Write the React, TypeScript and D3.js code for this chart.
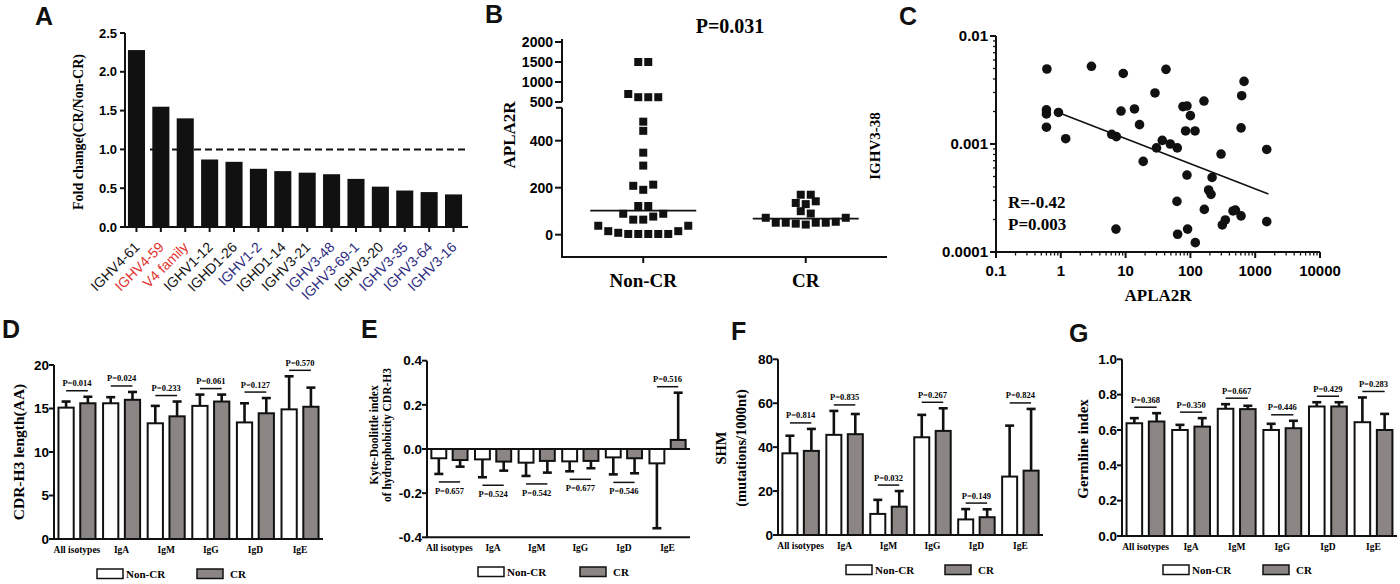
import * as d3 from "d3";

const SANS = "'Liberation Sans', Arial, Helvetica, sans-serif";
const SERIF = "'Liberation Serif', 'Times New Roman', Times, serif";
const INK = "#111";
const GRAY = "#8b8583";
const RED = "#e2302d";
const NAVY = "#2c2a7e";

// ---- A: fold change per gene
const genes = ["IGHV4-61", "IGHV4-59", "V4 family", "IGHV1-12", "IGHD1-26", "IGHV1-2", "IGHD1-14",
  "IGHV3-21", "IGHV3-48", "IGHV3-69-1", "IGHV3-20", "IGHV3-35", "IGHV3-64", "IGHV3-16"];
const foldChange = [2.28, 1.55, 1.4, 0.87, 0.84, 0.75, 0.72, 0.7, 0.68, 0.62, 0.52, 0.47, 0.45, 0.42];
const geneKind = ["k", "r", "r", "k", "k", "b", "k", "k", "b", "b", "k", "b", "b", "b"];
const foldTicks = [0, 0.5, 1, 1.5, 2, 2.5];

// ---- B: APLA2R by response
const groupsB = ["Non-CR", "CR"];
const apla2rNonCR = [1500, 1500, 700, 620, 620, 620, 481, 442, 349, 294, 213, 208, 191, 122, 122,
  89, 89, 77, 64, 64, 38, 15, 3, 3, 3, 3, 3, 8, 15, 38];
const apla2rCR = [170, 170, 130, 135, 142, 90, 100, 43, 47, 51, 51, 51, 51, 55, 72, 72];
const medianB = [102, 68];
const lowTicksB = [0, 200, 400];
const highTicksB = [500, 1000, 1500, 2000];

// ---- C: IGHV3-38 vs APLA2R
const apla2rC = [0.61, 0.6, 0.6, 0.6, 0.92, 1.19, 2.97, 9.2, 8.5, 6.1, 7.2, 7.1, 13.7, 16.4, 18.7,
  28.4, 30, 36.8, 42, 48.9, 62.7, 62, 63.5, 76.7, 88.5, 84.3, 100, 117.9, 88.5, 90.5, 119,
  162, 164, 191, 208, 216, 297, 311, 346, 455, 494, 605, 605, 619, 673, 1507, 1507];
const ighv338 = [0.00495, 0.00207, 0.0019, 0.00143, 0.00196, 0.00112, 0.00524, 0.0045, 0.00202,
  0.00123, 0.00117, 0.000163, 0.00211, 0.00151, 0.00069, 0.00297, 0.00092, 0.00108, 0.00491,
  0.001, 0.00092, 0.000294, 0.000146, 0.00222, 0.00225, 0.00132, 0.00183, 0.00132, 0.000516,
  0.000163, 0.000122, 0.0025, 0.000248, 0.000375, 0.000342, 0.00049, 0.000807, 0.000178,
  0.000198, 0.00024, 0.000244, 0.000216, 0.00141, 0.0028, 0.0038, 0.00089, 0.000191];
const fitC = { slope: -0.233, intercept: -2.717, from: 1, to: 1600 };
const xTicksC = [0.1, 1, 10, 100, 1000, 10000];
const yTicksC = [0.0001, 0.001, 0.01];

// ---- D-G: isotype bars
const isotypes = ["All isotypes", "IgA", "IgM", "IgG", "IgD", "IgE"];

const cdrNonCR = [15.1, 15.6, 13.3, 15.3, 13.4, 14.9];
const cdrNonCRErr = [0.7, 0.7, 2.0, 1.3, 2.2, 3.8];
const cdrCR = [15.6, 16.0, 14.1, 15.8, 14.45, 15.2];
const cdrCRErr = [0.75, 0.9, 1.7, 0.8, 1.75, 2.2];
const cdrP = ["P=0.014", "P=0.024", "P=0.233", "P=0.061", "P=0.127", "P=0.570"];

const kdNonCR = [-0.042, -0.047, -0.062, -0.056, -0.038, -0.065];
const kdNonCRErr = [0.071, 0.081, 0.06, 0.045, 0.077, 0.294];
const kdCR = [-0.05, -0.057, -0.054, -0.054, -0.042, 0.041];
const kdCRErr = [0.03, 0.041, 0.053, 0.033, 0.068, 0.214];
const kdP = ["P=0.657", "P=0.524", "P=0.542", "P=0.677", "P=0.546", "P=0.516"];

const shmNonCR = [37.2, 45.6, 9.6, 44.5, 7.1, 26.6];
const shmNonCRErr = [8.0, 10.9, 6.4, 10.2, 4.7, 23.2];
const shmCR = [38.3, 45.9, 12.9, 47.4, 8.1, 29.3];
const shmCRErr = [10, 9.2, 7.1, 10.3, 3.6, 28.1];
const shmP = ["P=0.814", "P=0.835", "P=0.032", "P=0.267", "P=0.149", "P=0.824"];

const glNonCR = [0.638, 0.6, 0.72, 0.6, 0.733, 0.644];
const glNonCRErr = [0.029, 0.029, 0.026, 0.035, 0.024, 0.14];
const glCR = [0.648, 0.619, 0.718, 0.61, 0.733, 0.6];
const glCRErr = [0.047, 0.048, 0.019, 0.042, 0.024, 0.091];
const glP = ["P=0.368", "P=0.350", "P=0.667", "P=0.446", "P=0.429", "P=0.283"];

const fix1 = (v: number) => v.toFixed(1);

function Letter({ t, x, y }: { t: string; x: number; y: number }) {
  return <text x={x} y={y} fontFamily={SANS} fontWeight="bold" fontSize={25} fill={INK}>{t}</text>;
}

function PanelA() {
  const x = d3.scaleBand().domain(genes).range([125, 465]).paddingInner(0.3).paddingOuter(0.12);
  const y = d3.scaleLinear().domain([0, 2.5]).range([227, 33]);
  const color: Record<string, string> = { k: INK, r: RED, b: NAVY };
  const bw = x.bandwidth();
  return (
    <g>
      <Letter t="A" x={35} y={25} />
      {genes.map((g, i) => (
        <rect key={g} x={x(g)} y={y(foldChange[i])} width={bw} height={y(0) - y(foldChange[i])} fill={INK} />
      ))}
      <line x1={x(genes[0])! + bw + 5} x2={468} y1={y(1)} y2={y(1)} stroke={INK} strokeWidth={2} strokeDasharray="7,4" />
      <line x1={125} x2={125} y1={y(0)} y2={y(2.5)} stroke={INK} strokeWidth={2} />
      <line x1={124} x2={468} y1={y(0)} y2={y(0)} stroke={INK} strokeWidth={2} />
      {foldTicks.map(t => (
        <g key={t}>
          <line x1={120} x2={125} y1={y(t)} y2={y(t)} stroke={INK} strokeWidth={2} />
          <text x={117} y={y(t)} dy="0.35em" textAnchor="end" fontFamily={SANS} fontWeight="bold" fontSize={13}>{fix1(t)}</text>
        </g>
      ))}
      {genes.map((g, i) => {
        const cx = x(g)! + bw / 2;
        return (
          <g key={g}>
            <line x1={cx} x2={cx} y1={y(0)} y2={y(0) + 5} stroke={INK} strokeWidth={2} />
            <text transform={`translate(${cx + 4},${y(0) + 21}) rotate(-45)`} textAnchor="end"
              fontFamily={SANS} fontSize={14} fill={color[geneKind[i]]}>{g}</text>
          </g>
        );
      })}
      <text transform="translate(78,132) rotate(-90)" textAnchor="middle" dominantBaseline="central"
        fontFamily={SERIF} fontWeight="bold" fontSize={14}>Fold change(CR/Non-CR)</text>
    </g>
  );
}

// rows of points that would overlap, spread centre-out
function swarm(vals: number[], py: (v: number) => number, cx: number, gap = 9, step = 10) {
  const sorted = [...vals].sort((a, b) => a - b);
  const rows: number[][] = [];
  let cur: number[] = [];
  for (const v of sorted) {
    if (cur.length && py(cur[0]) - py(v) >= gap) { rows.push(cur); cur = []; }
    cur.push(v);
  }
  if (cur.length) rows.push(cur);
  const pts: { x: number; y: number }[] = [];
  rows.forEach(row => {
    const n = row.length;
    const c = Math.floor(n / 2);
    const order: number[] = [c];
    for (let k = 1; order.length < n; k++) {
      if (c - k >= 0) order.push(c - k);
      if (c + k < n && order.length < n) order.push(c + k);
    }
    row.forEach((v, j) => pts.push({ x: cx + (order[j] - (n - 1) / 2) * step, y: py(v) }));
  });
  return pts;
}

function PanelB() {
  const x = d3.scalePoint().domain(groupsB).range([562, 887]).padding(0.5);
  const yLow = d3.scaleLinear().domain([-95, 540]).range([257, 107.8]);
  const yHigh = d3.scaleLinear().domain([500, 2000]).range([102, 42]);
  const py = (v: number) => (v > 540 ? yHigh(v) : yLow(v));
  const sets = [apla2rNonCR, apla2rCR];
  return (
    <g>
      <Letter t="B" x={485} y={23} />
      {sets.map((vals, gi) =>
        swarm(vals, py, x(groupsB[gi])!).map((p, i) => (
          <rect key={`${gi}-${i}`} x={p.x - 4} y={p.y - 4} width={8} height={8} fill={INK} />
        ))
      )}
      {groupsB.map((g, gi) => (
        <line key={g} x1={x(g)! - 53} x2={x(g)! + 53} y1={py(medianB[gi])} y2={py(medianB[gi])} stroke={INK} strokeWidth={1.8} />
      ))}
      <line x1={562} x2={562} y1={yLow(-95)} y2={yLow(540)} stroke={INK} strokeWidth={2} />
      <line x1={556} x2={562} y1={yLow(540)} y2={yLow(540)} stroke={INK} strokeWidth={2} />
      <line x1={562} x2={562} y1={yHigh(500)} y2={yHigh(2000) - 3} stroke={INK} strokeWidth={2} />
      {lowTicksB.map(t => (
        <g key={t}>
          <line x1={555} x2={562} y1={yLow(t)} y2={yLow(t)} stroke={INK} strokeWidth={2} />
          <text x={553} y={yLow(t)} dy="0.35em" textAnchor="end" fontFamily={SANS} fontWeight="bold" fontSize={14}>{t}</text>
        </g>
      ))}
      {highTicksB.map(t => (
        <g key={t}>
          <line x1={555} x2={562} y1={yHigh(t)} y2={yHigh(t)} stroke={INK} strokeWidth={2} />
          <text x={553} y={yHigh(t)} dy="0.35em" textAnchor="end" fontFamily={SANS} fontWeight="bold" fontSize={14}>{t}</text>
        </g>
      ))}
      <line x1={561} x2={887} y1={257} y2={257} stroke={INK} strokeWidth={2} />
      {groupsB.map(g => (
        <g key={g}>
          <line x1={x(g)} x2={x(g)} y1={257} y2={263} stroke={INK} strokeWidth={2} />
          <text x={x(g)} y={287} textAnchor="middle" fontFamily={SERIF} fontWeight="bold" fontSize={19}>{g}</text>
        </g>
      ))}
      <text x={730} y={33} textAnchor="middle" fontFamily={SERIF} fontWeight="bold" fontSize={20}>P=0.031</text>
      <text transform="translate(509,135) rotate(-90)" textAnchor="middle" dominantBaseline="central"
        fontFamily={SERIF} fontWeight="bold" fontSize={17}>APLA2R</text>
    </g>
  );
}

function PanelC() {
  const x = d3.scaleLog().domain([0.1, 10000]).range([996, 1320]);
  const y = d3.scaleLog().domain([1e-4, 1e-2]).range([252, 36]);
  const major = (v: number) => Math.abs(Math.log10(v) - Math.round(Math.log10(v))) < 1e-6;
  const fitY = (v: number) => Math.pow(10, fitC.intercept + fitC.slope * Math.log10(v));
  const fmtX = (v: number) => (v < 1 ? "0.1" : String(Math.round(v)));
  const fmtY = (v: number) => v.toFixed(-Math.round(Math.log10(v)));
  return (
    <g>
      <Letter t="C" x={899} y={25} />
      {apla2rC.map((v, i) => (
        <circle key={i} cx={x(v)} cy={y(ighv338[i])} r={4.8} fill={INK} />
      ))}
      <line x1={x(fitC.from)} x2={x(fitC.to)} y1={y(fitY(fitC.from))} y2={y(fitY(fitC.to))} stroke={INK} strokeWidth={1.6} />
      <line x1={996} x2={996} y1={252} y2={36} stroke={INK} strokeWidth={2} />
      <line x1={995} x2={1320} y1={252} y2={252} stroke={INK} strokeWidth={2} />
      {y.ticks().map(t => (
        <line key={t} x1={major(t) ? 990 : 993} x2={996} y1={y(t)} y2={y(t)} stroke={INK} strokeWidth={major(t) ? 2 : 1.3} />
      ))}
      {x.ticks().map(t => (
        <line key={t} x1={x(t)} x2={x(t)} y1={252} y2={major(t) ? 258 : 255.5} stroke={INK} strokeWidth={major(t) ? 2 : 1.3} />
      ))}
      {yTicksC.map(t => (
        <text key={t} x={988} y={y(t)} dy="0.35em" textAnchor="end" fontFamily={SANS} fontWeight="bold" fontSize={15}>{fmtY(t)}</text>
      ))}
      {xTicksC.map(t => (
        <text key={t} x={x(t)} y={276} textAnchor="middle" fontFamily={SANS} fontWeight="bold" fontSize={15}>{fmtX(t)}</text>
      ))}
      <text x={1008} y={208} fontFamily={SERIF} fontWeight="bold" fontSize={17}>R=-0.42</text>
      <text x={1008} y={230} fontFamily={SERIF} fontWeight="bold" fontSize={17}>P=0.003</text>
      <text x={1158} y={301} textAnchor="middle" fontFamily={SERIF} fontWeight="bold" fontSize={17}>APLA2R</text>
      <text transform="translate(875,146) rotate(-90)" textAnchor="middle" dominantBaseline="central"
        fontFamily={SERIF} fontWeight="bold" fontSize={15}>IGHV3-38</text>
    </g>
  );
}

type BarCfg = {
  letter: string; lx: number; ly: number;
  x0: number; x1: number; yTop: number; yBot: number;
  domain: [number, number]; ticks: number[]; fmt: (v: number) => string;
  a: number[]; aErr: number[]; b: number[]; bErr: number[]; pv: string[];
  ylab: string[]; ylabX: number[]; ylabY: number; ylabSize: number;
  legA: number; legB: number; legY: number;
};

function BarPanel({ c }: { c: BarCfg }) {
  const xg = d3.scaleBand().domain(isotypes).range([c.x0, c.x1]).paddingInner(0.17).paddingOuter(0.1);
  const xs = d3.scaleBand().domain(groupsB).range([0, xg.bandwidth()]).paddingInner(0.3);
  const y = d3.scaleLinear().domain(c.domain).range([c.yBot, c.yTop]);
  const base = c.domain[0] < 0 ? 0 : c.domain[0];
  const bw = xs.bandwidth();
  const series = [
    { key: "Non-CR", vals: c.a, errs: c.aErr, fill: "#fff" },
    { key: "CR", vals: c.b, errs: c.bErr, fill: GRAY },
  ];
  const end = (v: number, e: number) => (v >= 0 ? v + e : v - e);
  return (
    <g>
      <Letter t={c.letter} x={c.lx} y={c.ly} />
      {base !== c.domain[0] && (
        <line x1={c.x0} x2={c.x1} y1={y(0)} y2={y(0)} stroke={INK} strokeWidth={2} />
      )}
      {isotypes.map((iso, i) => (
        <g key={iso}>
          {series.map(s => {
            const bx = xg(iso)! + xs(s.key)!;
            const cx = bx + bw / 2;
            const v = s.vals[i];
            const e = end(v, s.errs[i]);
            return (
              <g key={s.key}>
                <line x1={cx} x2={cx} y1={y(v)} y2={y(e)} stroke={INK} strokeWidth={2.6} />
                <line x1={cx - 4.5} x2={cx + 4.5} y1={y(e)} y2={y(e)} stroke={INK} strokeWidth={2.6} />
                <rect x={bx} y={Math.min(y(v), y(base))} width={bw} height={Math.abs(y(v) - y(base))}
                  fill={s.fill} stroke={INK} strokeWidth={2} />
              </g>
            );
          })}
        </g>
      ))}
      {isotypes.map((iso, i) => {
        const ea = end(c.a[i], c.aErr[i]);
        const eb = end(c.b[i], c.bErr[i]);
        const up = Math.max(ea, eb) > 0;
        const ly = up ? Math.min(y(ea), y(eb)) - 6 : Math.max(y(ea), y(eb)) + 8;
        const xa = xg(iso)! + xs("Non-CR")! + bw / 2;
        const xb = xg(iso)! + xs("CR")! + bw / 2;
        return (
          <g key={iso}>
            <line x1={xa} x2={xb} y1={ly} y2={ly} stroke={INK} strokeWidth={1.5} />
            <text x={(xa + xb) / 2} y={up ? ly - 4.5 : ly + 12} textAnchor="middle" fontFamily={SERIF}
              fontWeight="bold" fontSize={8.5}>{c.pv[i]}</text>
            <text x={xg(iso)! + xg.bandwidth() / 2} y={c.yBot + 14} textAnchor="middle" fontFamily={SERIF}
              fontWeight="bold" fontSize={9.5}>{iso}</text>
          </g>
        );
      })}
      <line x1={c.x0} x2={c.x0} y1={c.yBot} y2={c.yTop} stroke={INK} strokeWidth={2} />
      <line x1={c.x0 - 1} x2={c.x1} y1={c.yBot} y2={c.yBot} stroke={INK} strokeWidth={2} />
      {c.ticks.map(t => (
        <g key={t}>
          <line x1={c.x0 - 5} x2={c.x0} y1={y(t)} y2={y(t)} stroke={INK} strokeWidth={2} />
          <text x={c.x0 - 5} y={y(t)} dy="0.35em" textAnchor="end" fontFamily={SANS} fontWeight="bold" fontSize={13.5}>{c.fmt(t)}</text>
        </g>
      ))}
      {c.ylab.map((l, i) => (
        <text key={l} transform={`translate(${c.ylabX[i]},${c.ylabY}) rotate(-90)`} textAnchor="middle"
          dominantBaseline="central" fontFamily={SERIF} fontWeight="bold" fontSize={c.ylabSize}>{l}</text>
      ))}
      <rect x={c.legA} y={c.legY} width={26} height={9.5} fill="#fff" stroke={INK} strokeWidth={1.5} />
      <text x={c.legA + 29} y={c.legY + 9} fontFamily={SERIF} fontWeight="bold" fontSize={11}>Non-CR</text>
      <rect x={c.legB} y={c.legY} width={26} height={9.5} fill={GRAY} stroke={INK} strokeWidth={1.5} />
      <text x={c.legB + 33} y={c.legY + 9} fontFamily={SERIF} fontWeight="bold" fontSize={11}>CR</text>
    </g>
  );
}

const panelD: BarCfg = {
  letter: "D", lx: 2, ly: 338, x0: 54, x1: 323, yTop: 365, yBot: 539,
  domain: [0, 20], ticks: [0, 5, 10, 15, 20], fmt: String,
  a: cdrNonCR, aErr: cdrNonCRErr, b: cdrCR, bErr: cdrCRErr, pv: cdrP,
  ylab: ["CDR-H3 length(AA)"], ylabX: [18], ylabY: 452, ylabSize: 15.5,
  legA: 97, legB: 197, legY: 569,
};
const panelE: BarCfg = {
  letter: "E", lx: 361, ly: 338, x0: 427, x1: 690, yTop: 360.7, yBot: 537.3,
  domain: [-0.4, 0.4], ticks: [-0.4, -0.2, 0, 0.2, 0.4], fmt: fix1,
  a: kdNonCR, aErr: kdNonCRErr, b: kdCR, bErr: kdCRErr, pv: kdP,
  ylab: ["Kyte-Doolittle index", "of hydrophobicity CDR-H3"], ylabX: [374, 387], ylabY: 435, ylabSize: 11.5,
  legA: 478, legB: 580, legY: 567,
};
const panelF: BarCfg = {
  letter: "F", lx: 731, ly: 340, x0: 778, x1: 1043, yTop: 359.3, yBot: 535,
  domain: [0, 80], ticks: [0, 20, 40, 60, 80], fmt: String,
  a: shmNonCR, aErr: shmNonCRErr, b: shmCR, bErr: shmCRErr, pv: shmP,
  ylab: ["SHM", "(mutations/1000nt)"], ylabX: [721, 741], ylabY: 448, ylabSize: 14.5,
  legA: 846, legB: 945, legY: 565,
};
const panelG: BarCfg = {
  letter: "G", lx: 1069, ly: 342, x0: 1122, x1: 1397, yTop: 359.3, yBot: 536,
  domain: [0, 1], ticks: [0, 0.2, 0.4, 0.6, 0.8, 1], fmt: fix1,
  a: glNonCR, aErr: glNonCRErr, b: glCR, bErr: glCRErr, pv: glP,
  ylab: ["Germline index"], ylabX: [1083], ylabY: 449, ylabSize: 15,
  legA: 1163, legB: 1263, legY: 565,
};

export default function App() {
  return (
    <svg width={1400} height={584} viewBox="0 0 1400 584"
      style={{ position: "absolute", left: 0, top: 0, background: "#fff" }}>
      <rect width={1400} height={584} fill="#fff" />
      <PanelA />
      <PanelB />
      <PanelC />
      <BarPanel c={panelD} />
      <BarPanel c={panelE} />
      <BarPanel c={panelF} />
      <BarPanel c={panelG} />
    </svg>
  );
}
